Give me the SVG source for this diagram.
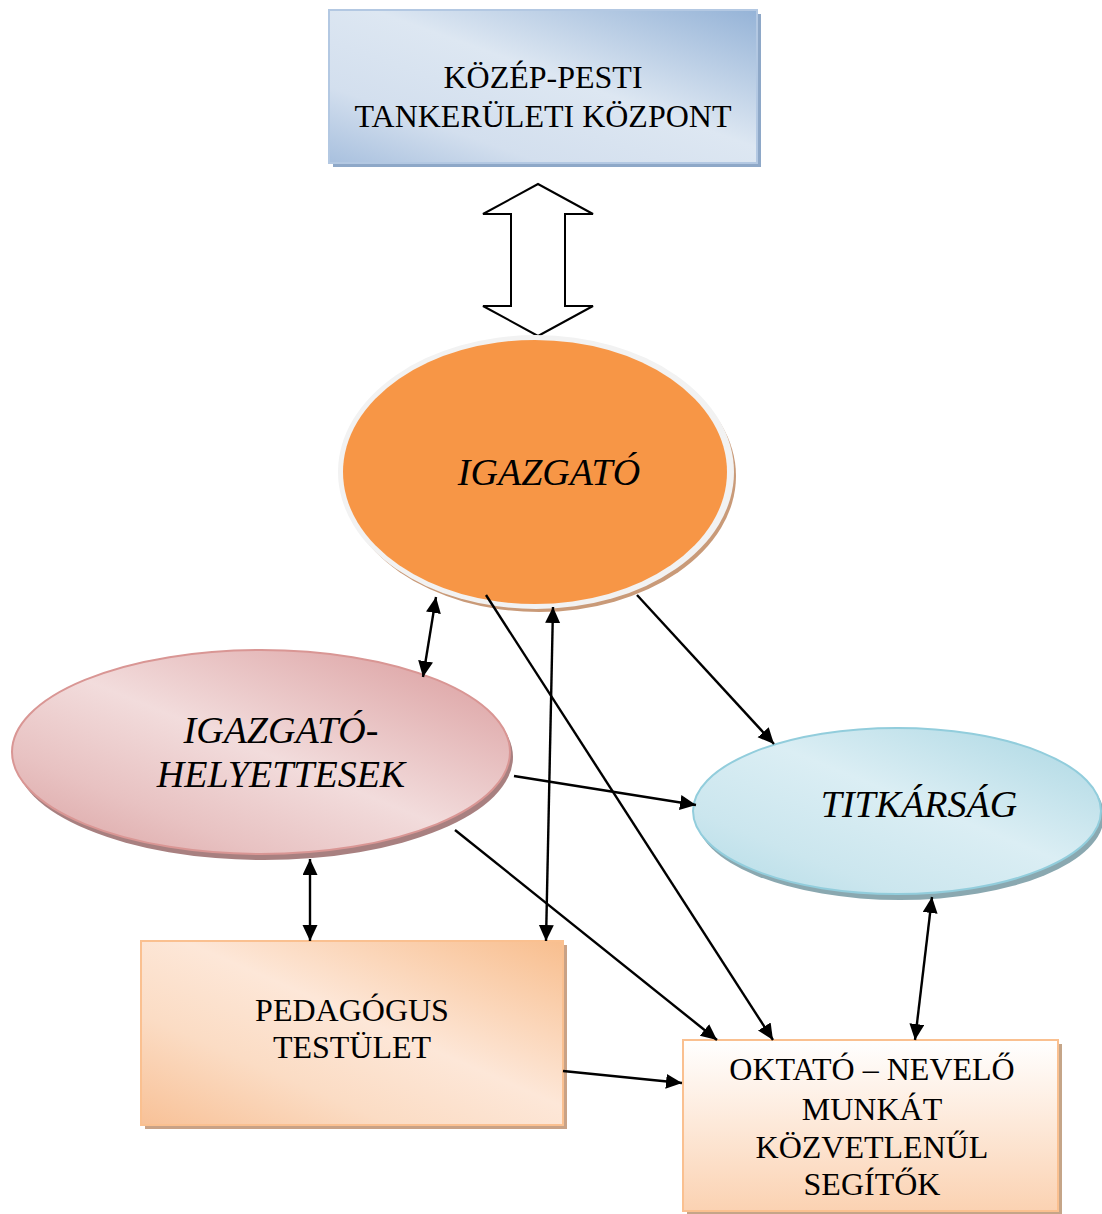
<svg xmlns="http://www.w3.org/2000/svg" width="1102" height="1214" viewBox="0 0 1102 1214">
<style>
.t{font-family:"Liberation Serif","Times New Roman",serif;font-size:32px;fill:#000;text-anchor:middle}
.i{font-style:italic;font-size:38px}
.c{stroke:#000;stroke-width:2.4;fill:none}
</style>
<defs>
<linearGradient id="gTop" x1="1" y1="0" x2="0" y2="1">
<stop offset="0" stop-color="#95b3d7"/><stop offset="0.45" stop-color="#dde7f2"/><stop offset="0.75" stop-color="#d3dfee"/><stop offset="1" stop-color="#a8c0de"/>
</linearGradient>
<linearGradient id="gPink" x1="1" y1="0" x2="0" y2="1">
<stop offset="0" stop-color="#d9999a"/><stop offset="0.5" stop-color="#f2dcdc"/><stop offset="0.75" stop-color="#e8c2c2"/><stop offset="1" stop-color="#d9a0a0"/>
</linearGradient>
<linearGradient id="gBlue" x1="1" y1="0" x2="0" y2="1">
<stop offset="0" stop-color="#a9d6e2"/><stop offset="0.45" stop-color="#dbeef4"/><stop offset="0.75" stop-color="#cbe6ee"/><stop offset="1" stop-color="#b2dbe6"/>
</linearGradient>
<linearGradient id="gPeach" x1="1" y1="0" x2="0" y2="1">
<stop offset="0" stop-color="#f8be8e"/><stop offset="0.45" stop-color="#fde7d8"/><stop offset="0.7" stop-color="#fbdcc4"/><stop offset="1" stop-color="#f8c197"/>
</linearGradient>
<linearGradient id="gOk" x1="0" y1="0" x2="0" y2="1">
<stop offset="0" stop-color="#ffffff"/><stop offset="1" stop-color="#fbd2b2"/>
</linearGradient>
<marker id="ah" markerUnits="userSpaceOnUse" markerWidth="18" markerHeight="16" refX="16" refY="7.5" orient="auto-start-reverse">
<path d="M0,0 L16,7.5 L0,15 z" fill="#000"/>
</marker>
</defs>

<g id="kozpont">
<rect x="333" y="14" width="428" height="153" fill="#8ea8c8"/>
<rect x="329" y="10" width="428" height="153" fill="url(#gTop)" stroke="#b3c8e2" stroke-width="2"/>
<text class="t" x="543" y="88">KÖZÉP-PESTI</text>
<text class="t" x="543" y="127">TANKERÜLETI KÖZPONT</text>
</g>

<g id="kettos-nyil">
<path d="M538,184 L593,214 L565,214 L565,306 L593,306 L538,336 L483,306 L511,306 L511,214 L483,214 Z" fill="#fff" stroke="#000" stroke-width="2"/>
</g>

<g id="igazgato">
<ellipse cx="539" cy="476" rx="197" ry="136" fill="#c99a78"/>
<ellipse cx="536" cy="472" rx="198" ry="137" fill="#f2f2f2"/>
<ellipse cx="535" cy="472" rx="192" ry="132" fill="#f79646"/>
<text class="t i" x="549" y="485">IGAZGATÓ</text>
</g>

<g id="helyettesek">
<ellipse cx="264" cy="757" rx="249" ry="103" fill="#a88080"/>
<ellipse cx="261" cy="752" rx="249" ry="102" fill="url(#gPink)" stroke="#d99694" stroke-width="2"/>
<text class="t i" x="281" y="743">IGAZGATÓ-</text>
<text class="t i" x="281" y="787">HELYETTESEK</text>
</g>

<g id="titkarsag">
<ellipse cx="900" cy="816" rx="204" ry="84" fill="#8aa8b0"/>
<ellipse cx="897" cy="811" rx="204" ry="83" fill="url(#gBlue)" stroke="#92cddc" stroke-width="2"/>
<text class="t i" x="919" y="817">TITKÁRSÁG</text>
</g>

<g id="pedagogus">
<rect x="145" y="945" width="422" height="184" fill="#c9a286"/>
<rect x="141" y="941" width="422" height="184" fill="url(#gPeach)" stroke="#fac090" stroke-width="2"/>
<text class="t" x="352" y="1021">PEDAGÓGUS</text>
<text class="t" x="352" y="1058">TESTÜLET</text>
</g>

<g id="oktato">
<rect x="687" y="1044" width="375" height="172" fill="#c5a588"/>
<rect x="683" y="1040" width="375" height="171" fill="url(#gOk)" stroke="#fac090" stroke-width="2"/>
<text class="t" x="872" y="1080">OKTATÓ – NEVELŐ</text>
<text class="t" x="872" y="1120">MUNKÁT</text>
<text class="t" x="872" y="1158">KÖZVETLENŰL</text>
<text class="t" x="872" y="1195">SEGÍTŐK</text>
</g>

<g id="connectors">
<line class="c" x1="436" y1="597" x2="423" y2="677" marker-start="url(#ah)" marker-end="url(#ah)"/>
<line class="c" x1="486" y1="595" x2="773" y2="1040" marker-end="url(#ah)"/>
<line class="c" x1="553" y1="607" x2="546" y2="941" marker-start="url(#ah)" marker-end="url(#ah)"/>
<line class="c" x1="637" y1="595" x2="774" y2="744" marker-end="url(#ah)"/>
<line class="c" x1="514" y1="776" x2="696" y2="805" marker-end="url(#ah)"/>
<line class="c" x1="310" y1="859" x2="310" y2="941" marker-start="url(#ah)" marker-end="url(#ah)"/>
<line class="c" x1="455" y1="830" x2="717" y2="1040" marker-end="url(#ah)"/>
<line class="c" x1="563" y1="1071" x2="682" y2="1083" marker-end="url(#ah)"/>
<line class="c" x1="932" y1="897" x2="915" y2="1040" marker-start="url(#ah)" marker-end="url(#ah)"/>
</g>
</svg>
